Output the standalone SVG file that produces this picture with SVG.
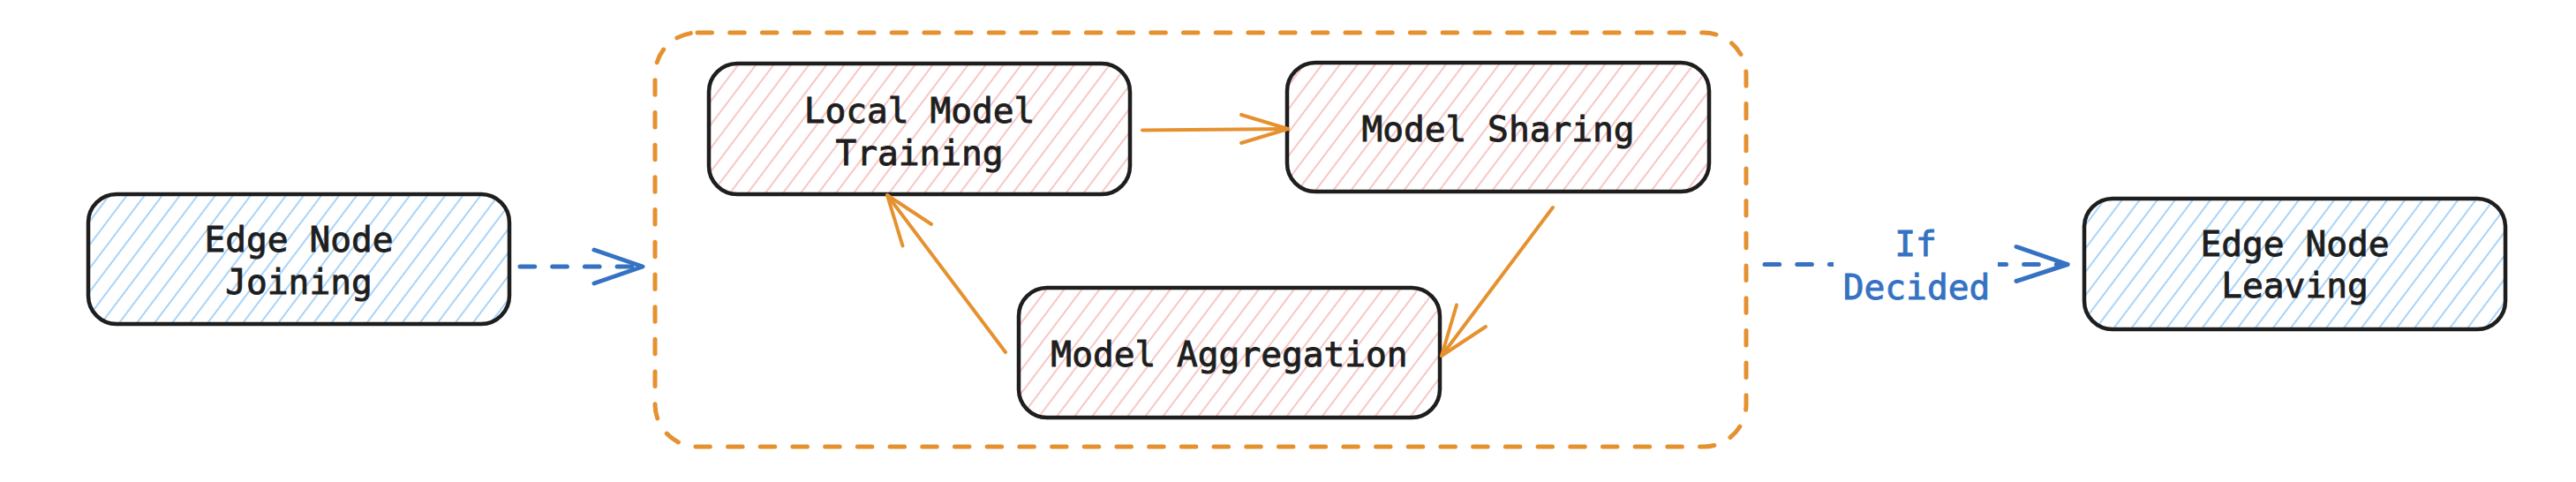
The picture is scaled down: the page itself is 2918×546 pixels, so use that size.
<svg xmlns="http://www.w3.org/2000/svg" width="2918" height="546" viewBox="0 0 2918 546">
  <style>
    .box { stroke: #1e1e1e; stroke-width: 4.5; }
    .pink { fill: url(#hatchPink); }
    .blue { fill: url(#hatchBlue); }
    .lbl { font-family: "DejaVu Sans Mono", "Liberation Mono", monospace; font-size: 39.5px; fill: #1e1e1e; stroke: #1e1e1e; stroke-width: 0.9; text-anchor: middle; }
    .elbl { font-family: "DejaVu Sans Mono", "Liberation Mono", monospace; font-size: 39.5px; fill: #3572c2; stroke: #3572c2; stroke-width: 0.9; text-anchor: middle; }
    .grp { fill: none; stroke: #e6912f; stroke-width: 5; stroke-dasharray: 16.5 20.2; stroke-linecap: round; }
    .oarr { fill: none; stroke: #e6912f; stroke-width: 4; stroke-linecap: round; stroke-linejoin: round; }
    .bdash { fill: none; stroke: #3572c2; stroke-width: 5; stroke-dasharray: 16.7 20; stroke-linecap: round; }
    .bhead { fill: none; stroke: #3572c2; stroke-width: 5; stroke-linecap: round; stroke-linejoin: round; }
  </style>
  <defs>
    <pattern id="hatchPink" width="16" height="16" patternUnits="userSpaceOnUse" patternTransform="rotate(37)">
      <rect width="16" height="16" fill="#ffffff"/>
      <line x1="8" y1="0" x2="8" y2="16" stroke="#f8c6c6" stroke-width="2"/>
    </pattern>
    <pattern id="hatchBlue" width="16" height="16" patternUnits="userSpaceOnUse" patternTransform="rotate(37)">
      <rect width="16" height="16" fill="#ffffff"/>
      <line x1="8" y1="0" x2="8" y2="16" stroke="#a8d4f8" stroke-width="2"/>
    </pattern>
    <mask id="labelGap" maskUnits="userSpaceOnUse" x="0" y="0" width="2918" height="546">
      <rect x="0" y="0" width="2918" height="546" fill="#ffffff"/>
      <rect x="2077" y="250" width="186" height="100" fill="#000000"/>
    </mask>
  </defs>
  <rect width="2918" height="546" fill="#ffffff"/>

  <g id="group-frame">
    <rect class="grp" x="742" y="37" width="1236" height="469" rx="48" ry="48"/>
  </g>

  <g id="node-joining">
    <rect class="box blue" x="100" y="220" width="477" height="147" rx="32" ry="32"/>
    <text class="lbl" x="338.5" y="285">Edge Node</text>
    <text class="lbl" x="338.5" y="333">Joining</text>
  </g>

  <g id="node-local-training">
    <rect class="box pink" x="803" y="72" width="477" height="148" rx="32" ry="32"/>
    <text class="lbl" x="1041.5" y="139">Local Model</text>
    <text class="lbl" x="1041.5" y="187">Training</text>
  </g>

  <g id="node-model-sharing">
    <rect class="box pink" x="1458" y="71" width="478" height="146" rx="32" ry="32"/>
    <text class="lbl" x="1697" y="160">Model Sharing</text>
  </g>

  <g id="node-model-aggregation">
    <rect class="box pink" x="1154" y="326" width="477" height="147" rx="32" ry="32"/>
    <text class="lbl" x="1392.5" y="415">Model Aggregation</text>
  </g>

  <g id="node-leaving">
    <rect class="box blue" x="2361" y="225" width="477" height="148" rx="32" ry="32"/>
    <text class="lbl" x="2599.5" y="290">Edge Node</text>
    <text class="lbl" x="2599.5" y="337">Leaving</text>
  </g>

  <g id="connectors">
    <!-- Joining -> group -->
    <path class="bdash" d="M589,302 L728,302"/>
    <path class="bhead" d="M673,283 L728,302 L673,321"/>
    <!-- Local training -> sharing -->
    <path class="oarr" d="M1294,147.5 L1459,146"/>
    <path class="oarr" d="M1406,130 L1459,146 L1406,162"/>
    <!-- Sharing -> aggregation -->
    <path class="oarr" d="M1759,235 L1633,403"/>
    <path class="oarr" d="M1650,345.5 L1633,403 L1683,370"/>
    <!-- Aggregation -> local training -->
    <path class="oarr" d="M1139,399 L1005,221"/>
    <path class="oarr" d="M1055,254 L1005,221 L1022.5,278.5"/>
    <!-- group -> Leaving -->
    <path class="bdash" d="M1999,299.5 L2342,299.5" mask="url(#labelGap)"/>
    <path class="bhead" d="M2284,279.5 L2342,299.5 L2284,318.5"/>
    <text class="elbl" x="2170" y="290">If</text>
    <text class="elbl" x="2171" y="339">Decided</text>
  </g>
</svg>
